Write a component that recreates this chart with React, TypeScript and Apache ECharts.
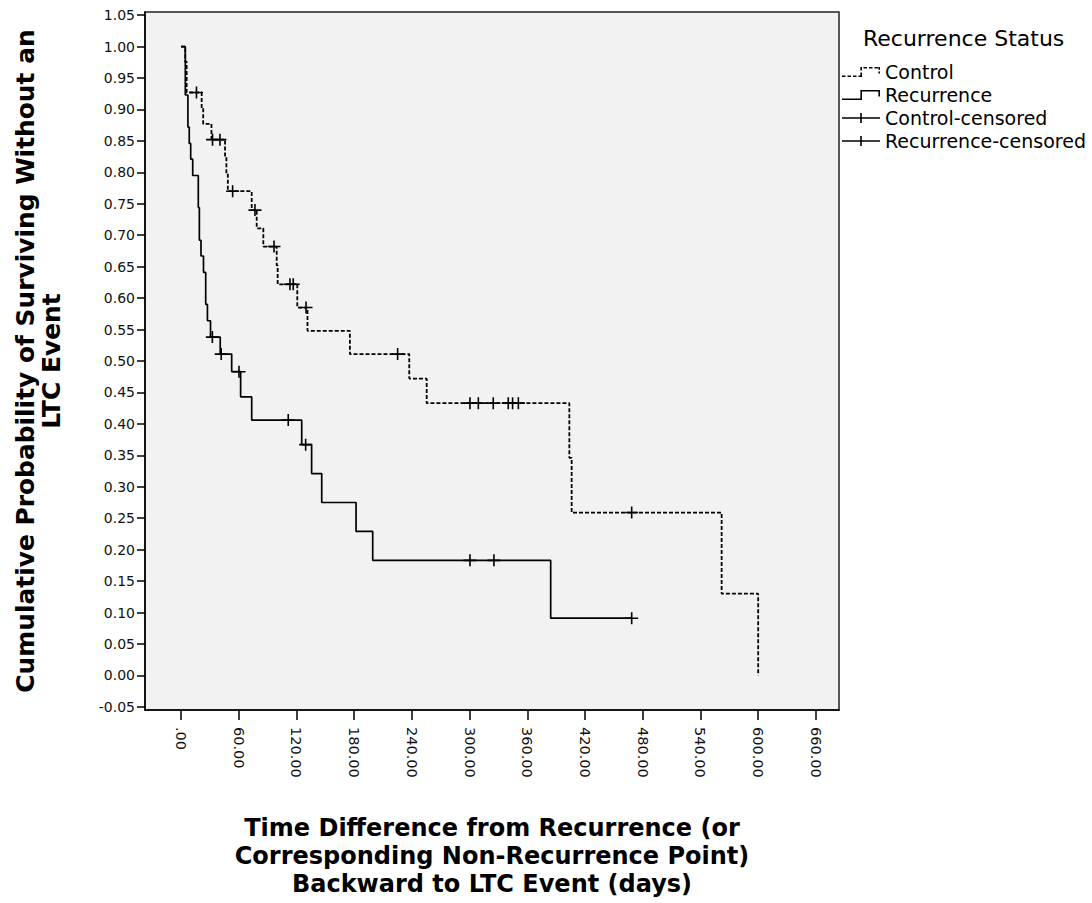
import React, { useEffect, useRef } from "react";
import * as echarts from "echarts";

const FONT = "DejaVu Sans";

// Tick values (axis labels)
const xTicks = [0, 60, 120, 180, 240, 300, 360, 420, 480, 540, 600, 660];
const yTicks = [
  -0.05, 0, 0.05, 0.1, 0.15, 0.2, 0.25, 0.3, 0.35, 0.4, 0.45, 0.5, 0.55, 0.6,
  0.65, 0.7, 0.75, 0.8, 0.85, 0.9, 0.95, 1.0, 1.05,
];

// Series names
const seriesNames = ["Control", "Recurrence", "Control-censored", "Recurrence-censored"];

// Kaplan-Meier step points [time (days), cumulative survival]
const controlSteps = [
  [0, 1.0], [4.4, 0.976], [5.9, 0.927], [21.5, 0.902], [23.1, 0.877], [31.7, 0.852],
  [45.8, 0.825], [47.2, 0.798], [48.7, 0.77], [73.5, 0.74], [78.7, 0.711], [85.6, 0.682],
  [99.5, 0.652], [100.5, 0.622], [120.9, 0.585], [131.5, 0.548], [175.6, 0.511],
  [237.3, 0.472], [255.4, 0.433], [403.7, 0.346], [406.1, 0.259], [562.0, 0.13],
  [600.0, 0.0],
];

const recurrenceSteps = [
  [0, 1.0], [4.5, 0.923], [7.2, 0.872], [8.6, 0.846], [10.1, 0.821], [12.2, 0.795],
  [18.0, 0.744], [19.1, 0.692], [20.8, 0.667], [23.4, 0.641], [25.7, 0.59], [27.5, 0.564],
  [30.7, 0.538], [40.8, 0.511], [52.7, 0.483], [62.0, 0.443], [73.5, 0.406],
  [125.5, 0.367], [135.8, 0.321], [146.3, 0.275], [182.0, 0.229], [199.3, 0.183],
  [384.3, 0.091], [468.5, 0.091],
];

// Censored observations [time, survival]
const controlCensored = [
  [16.1, 0.927], [32.8, 0.852], [40.5, 0.852], [53.7, 0.77], [76.9, 0.74], [96.7, 0.682],
  [113.3, 0.622], [116.7, 0.622], [130.0, 0.585], [225.2, 0.511], [300.4, 0.433],
  [309.1, 0.433], [324.6, 0.433], [340.2, 0.433], [344.7, 0.433], [350.7, 0.433],
  [468.5, 0.259],
];

const recurrenceCensored = [
  [32.6, 0.538], [41.8, 0.511], [60.3, 0.483], [111.5, 0.406], [129.6, 0.367],
  [300.4, 0.183], [325.3, 0.183], [468.5, 0.091],
];

const PLUS = "path://M0,5.2H13V6.8H0Z M5.7,0H7.3V12H5.7Z";
const CONTROL_ICON =
  "path://M0,8.4H3.5V10H0Z M5.5,8.4H9V10H5.5Z M11,8.4H14.5V10H11Z M16.5,8.4H18.4V10H16.5Z M18.4,5.5H20V10H18.4Z M18.4,0H20V3.5H18.4Z M21.5,0H25V1.6H21.5Z M27,0H30.5V1.6H27Z M32.5,0H36V1.6H32.5Z M36.4,0H38V2.8H36.4Z M36.4,4.6H38V6.4H36.4Z";
const RECURRENCE_ICON = "path://M0,8.4H18.4V0H38V6.4H36.4V1.6H20V10H0Z";
const CENSOR_ICON = "path://M0,4.2H38V5.8H0Z M18.2,0H19.8V10H18.2Z";

export default function App() {
  const ref = useRef<HTMLDivElement>(null);

  useEffect(() => {
    document.body.style.margin = "0";
    if (!ref.current) return;
    const chart = echarts.init(ref.current, undefined, { renderer: "svg" });

    const titleStyle = {
      fontFamily: FONT,
      fontWeight: "bold" as const,
      color: "#000",
    };

    chart.setOption({
      animation: false,
      backgroundColor: "#fff",
      title: {
        text: "Recurrence Status",
        left: 863,
        top: 27,
        padding: 0,
        textStyle: { fontFamily: FONT, fontSize: 22, fontWeight: "normal", color: "#000" },
      },
      legend: {
        orient: "vertical",
        left: 842,
        top: 62,
        padding: 0,
        itemWidth: 38,
        itemHeight: 10,
        itemGap: 3,
        selectedMode: false,
        data: [
          { name: seriesNames[0], icon: CONTROL_ICON },
          { name: seriesNames[1], icon: RECURRENCE_ICON },
          { name: seriesNames[2], icon: CENSOR_ICON },
          { name: seriesNames[3], icon: CENSOR_ICON },
        ],
        itemStyle: { color: "#000", borderWidth: 0 },
        textStyle: { fontFamily: FONT, fontSize: 19, color: "#000", lineHeight: 20 },
      },
      grid: {
        left: 145,
        right: 253,
        top: 12,
        bottom: 187,
        show: true,
        backgroundColor: "#f2f2f2",
        borderColor: "#222",
        borderWidth: 1.5,
      },
      xAxis: {
        type: "value",
        min: -37.4,
        max: 684,
        splitLine: { show: false },
        axisLine: { show: true, onZero: false, lineStyle: { color: "#000", width: 1.5 } },
        axisTick: {
          show: true,
          length: 10,
          customValues: xTicks,
          lineStyle: { color: "#000", width: 1.5 },
        },
        axisLabel: {
          customValues: xTicks,
          rotate: -90,
          margin: 17,
          fontFamily: FONT,
          fontSize: 14.5,
          color: "#111",
          formatter: (v: number) => (v === 0 ? ".00" : v.toFixed(2)),
        },
        name:
          "Time Difference from Recurrence (or\nCorresponding Non-Recurrence Point)\nBackward to LTC Event (days)",
        nameLocation: "middle",
        nameGap: 104,
        nameTextStyle: { ...titleStyle, fontSize: 24, lineHeight: 28 },
      },
      yAxis: {
        type: "value",
        min: -0.055,
        max: 1.055,
        splitLine: { show: false },
        axisLine: { show: true, onZero: false, lineStyle: { color: "#000", width: 1.5 } },
        axisTick: {
          show: true,
          length: 8,
          customValues: yTicks,
          lineStyle: { color: "#000", width: 1.5 },
        },
        axisLabel: {
          customValues: yTicks,
          margin: 10,
          fontFamily: FONT,
          fontSize: 14,
          color: "#111",
          formatter: (v: number) => v.toFixed(2),
        },
        name: "Cumulative Probability of Surviving Without an\nLTC Event",
        nameLocation: "middle",
        nameRotate: 90,
        nameGap: 81,
        nameTextStyle: { ...titleStyle, fontSize: 24.9, lineHeight: 26 },
      },
      series: [
        {
          type: "line",
          name: seriesNames[0],
          data: controlSteps,
          step: "end",
          symbol: "none",
          showSymbol: false,
          silent: true,
          itemStyle: { color: "#000" },
          lineStyle: { color: "#000", width: 1.8, type: [4, 2] },
          z: 2,
        },
        {
          type: "line",
          name: seriesNames[1],
          data: recurrenceSteps,
          step: "end",
          symbol: "none",
          showSymbol: false,
          silent: true,
          itemStyle: { color: "#000" },
          lineStyle: { color: "#000", width: 1.7 },
          z: 2,
        },
        {
          type: "scatter",
          name: seriesNames[2],
          data: controlCensored,
          symbol: PLUS,
          symbolSize: [13, 12],
          silent: true,
          itemStyle: { color: "#000", opacity: 1 },
          z: 3,
        },
        {
          type: "scatter",
          name: seriesNames[3],
          data: recurrenceCensored,
          symbol: PLUS,
          symbolSize: [13, 12],
          silent: true,
          itemStyle: { color: "#000", opacity: 1 },
          z: 3,
        },
      ],
    });

    return () => {
      chart.dispose();
    };
  }, []);

  return <div ref={ref} style={{ width: 1092, height: 903 }} />;
}
